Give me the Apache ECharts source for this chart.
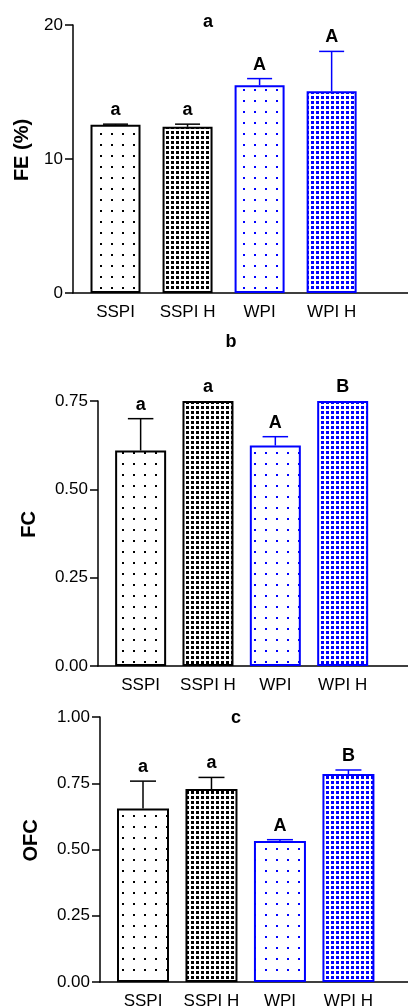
<!DOCTYPE html>
<html>
<head>
<meta charset="utf-8">
<script src="https://cdn.jsdelivr.net/npm/echarts@6/dist/echarts.min.js"></script>
<style>
  html, body { margin: 0; padding: 0; background: #fff; }
  #main { width: 408px; height: 1007px; }
</style>
</head>
<body>
<div id="main"></div>
<script>
// groups on the x axis
const categories = ['SSPI', 'SSPI H', 'WPI', 'WPI H'];

// panel a - FE (%)
const feMean = [12.55, 12.4, 15.5, 15.05];
const feErr = [0.05, 0.2, 0.5, 2.98];
const feLetters = ['a', 'a', 'A', 'A'];

// panel b - FC
const fcMean = [0.61, 0.75, 0.624, 0.75];
const fcErr = [0.09, 0, 0.025, 0];
const fcLetters = ['a', 'a', 'A', 'B'];

// panel c - OFC
const ofcMean = [0.655, 0.728, 0.532, 0.785];
const ofcErr = [0.103, 0.044, 0.005, 0.015];
const ofcLetters = ['a', 'a', 'A', 'B'];

const panelTitles = ['a', 'b', 'c'];
const yNames = ['FE (%)', 'FC', 'OFC'];

const FONT = "'Liberation Sans', Arial, sans-serif";
const BLUE = '#0000ff';
const BLACK = '#000000';

function makePattern(color, period, dot) {
  const c = document.createElement('canvas');
  c.width = period;
  c.height = period;
  const ctx = c.getContext('2d');
  ctx.fillStyle = '#ffffff';
  ctx.fillRect(0, 0, period, period);
  ctx.fillStyle = color;
  ctx.fillRect(1, 1, dot, dot);
  return { image: c, repeat: 'repeat' };
}

const fills = [
  makePattern(BLACK, 11, 2),
  makePattern(BLACK, 5, 3),
  makePattern(BLUE, 11, 2),
  makePattern(BLUE, 5, 3)
];
const strokes = [BLACK, BLACK, BLUE, BLUE];

// layout of the three panels
const panels = [
  { mean: feMean, err: feErr, letters: feLetters, left: 73, top: 25, height: 268,
    xMin: -0.59, xMax: 4.06, yMax: 20, yInt: 10, dec: 0, barW: 50, nameGap: 41 },
  { mean: fcMean, err: fcErr, letters: fcLetters, left: 98, top: 401, height: 265,
    xMin: -0.633, xMax: 3.97, yMax: 0.75, yInt: 0.25, dec: 2, barW: 51, nameGap: 59 },
  { mean: ofcMean, err: ofcErr, letters: ofcLetters, left: 100, top: 717, height: 265,
    xMin: -0.628, xMax: 3.87, yMax: 1, yInt: 0.25, dec: 2, barW: 52, nameGap: 59 }
];

const titleTops = [13, 333, 709];
const titleLefts = [208, 231, 236];

const grid = [], xAxis = [], yAxis = [], series = [], title = [];

panels.forEach(function (p, k) {
  grid.push({ left: p.left, right: 0, top: p.top, height: p.height, outerBoundsMode: 'none' });
  title.push({
    text: panelTitles[k], left: titleLefts[k], top: titleTops[k], padding: 0,
    textAlign: 'center',
    textStyle: { fontFamily: FONT, fontSize: 18, fontWeight: 'bold', color: BLACK }
  });
  xAxis.push({
    type: 'value', gridIndex: k, min: p.xMin, max: p.xMax,
    axisLine: { show: true, onZero: false, lineStyle: { color: BLACK, width: 1.5 } },
    axisTick: { show: false },
    splitLine: { show: false },
    axisLabel: {
      customValues: [0, 1, 2, 3],
      formatter: function (v) { return categories[Math.round(v)]; },
      margin: 11, color: BLACK, fontFamily: FONT, fontSize: 17
    }
  });
  yAxis.push({
    type: 'value', gridIndex: k, min: 0, max: p.yMax, interval: p.yInt,
    name: yNames[k], nameLocation: 'middle', nameGap: p.nameGap, nameRotate: 90,
    nameTextStyle: { fontFamily: FONT, fontSize: 20, fontWeight: 'bold', color: BLACK, padding: [0, 0, 0, 18] },
    axisLine: { show: true, onZero: false, lineStyle: { color: BLACK, width: 1.5 } },
    axisTick: { show: true, length: 8, lineStyle: { color: BLACK, width: 1.5 } },
    splitLine: { show: false },
    axisLabel: {
      margin: 10, color: BLACK, fontFamily: FONT, fontSize: 17,
      formatter: function (v) { return v.toFixed(p.dec); }
    }
  });

  series.push({
    type: 'bar', xAxisIndex: k, yAxisIndex: k, barWidth: p.barW,
    data: p.mean.map(function (m, i) {
      return {
        value: [i, m],
        itemStyle: { color: fills[i], borderColor: strokes[i], borderWidth: 2 }
      };
    }),
    silent: true
  });

  series.push({
    type: 'custom', xAxisIndex: k, yAxisIndex: k, clip: false, z: 5,
    data: p.mean.map(function (m, i) { return [i, m, p.err[i]]; }),
    renderItem: function (params, api) {
      const i = params.dataIndex;
      const x = api.value(0);
      const m = api.value(1);
      const e = api.value(2);
      const base = api.coord([x, m]);
      const tip = api.coord([x, m + e]);
      const half = p.barW / 4;
      const col = strokes[i];
      const children = [];
      if (e > 0) {
        children.push({
          type: 'line',
          shape: { x1: base[0], y1: base[1], x2: tip[0], y2: tip[1] },
          style: { stroke: col, lineWidth: 1.5 }
        });
        children.push({
          type: 'line',
          shape: { x1: tip[0] - half, y1: tip[1], x2: tip[0] + half, y2: tip[1] },
          style: { stroke: col, lineWidth: 1.5 }
        });
      }
      children.push({
        type: 'text',
        style: {
          text: p.letters[i], x: tip[0], y: tip[1] - 5,
          align: 'center', verticalAlign: 'bottom',
          fill: BLACK, font: 'bold 18px ' + FONT
        }
      });
      return { type: 'group', children: children };
    }
  });
});

const option = {
  animation: false,
  backgroundColor: '#ffffff',
  title: title,
  grid: grid,
  xAxis: xAxis,
  yAxis: yAxis,
  series: series
};

const myChart = echarts.init(document.getElementById('main'));
myChart.setOption(option);
window.addEventListener('resize', function () { myChart.resize(); });
</script>
</body>
</html>
